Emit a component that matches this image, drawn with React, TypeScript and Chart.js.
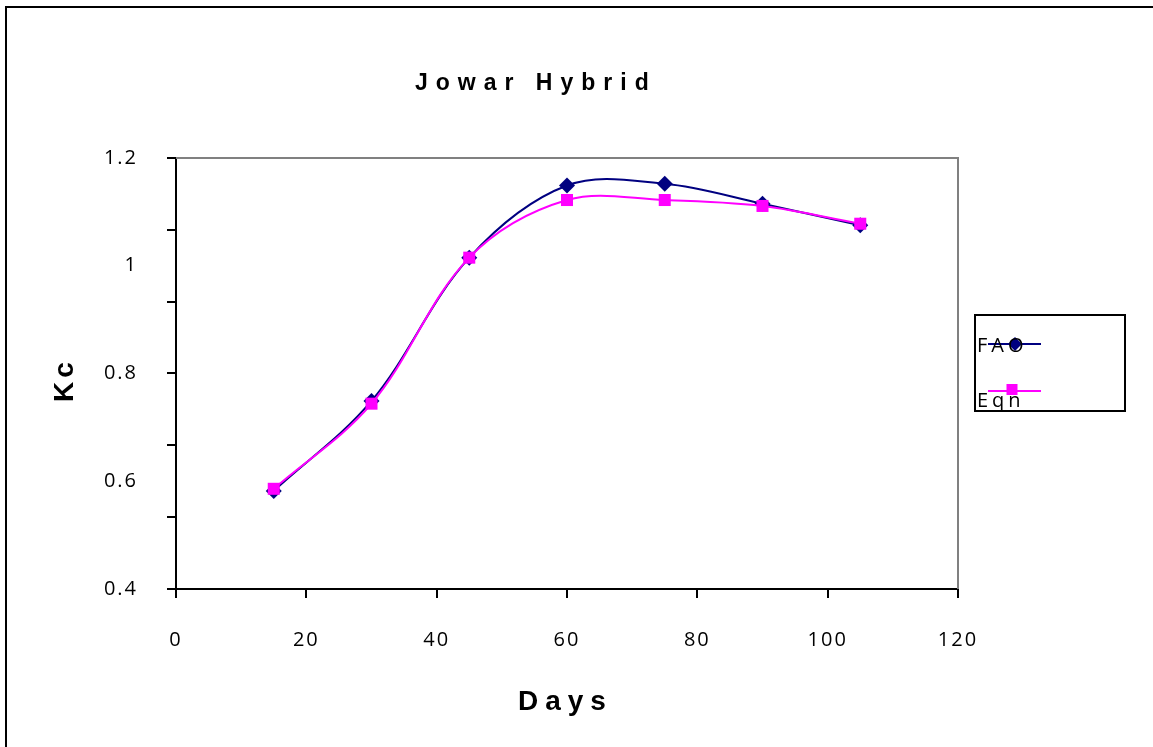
import React, { useEffect, useRef } from "react";
import { Chart, registerables } from "chart.js";

Chart.register(...registerables);

const titleText = "Jowar Hybrid";
const xTitle = "Days";
const yTitle = "Kc";
const days = [15, 30, 45, 60, 75, 90, 105];
const faoKc = [0.582, 0.749, 1.015, 1.149, 1.152, 1.115, 1.075];
const eqnKc = [0.586, 0.744, 1.015, 1.122, 1.122, 1.111, 1.078];
const seriesNames = ["FAO", "Eqn"];
const seriesColors = ["#000080", "#FF00FF"];
const xMin = 0, xMax = 120, xStep = 20;
const yMin = 0.4, yMax = 1.2, yStep = 0.2;
const yMinorDivisions = 6;

function spacedText(ctx: CanvasRenderingContext2D, text: string, x: number, y: number, spacing: number) {
  ctx.save();
  (ctx as any).letterSpacing = spacing + "px";
  ctx.textAlign = "left";
  ctx.fillText(text, x, y);
  ctx.restore();
}

const decorPlugin = {
  id: "decor",
  beforeDraw(chart: any) {
    const ctx = chart.ctx;
    ctx.save();
    ctx.fillStyle = "#ffffff";
    ctx.fillRect(0, 0, chart.width, chart.height);
    ctx.restore();
    (ctx as any).letterSpacing = "2px";
  },
  beforeDatasetsDraw(chart: any) {
    (chart.ctx as any).letterSpacing = "0px";
  },
  afterDraw(chart: any) {
    const ctx: CanvasRenderingContext2D = chart.ctx;
    const { left, right, top, bottom } = chart.chartArea;
    const ys = chart.scales.y;
    ctx.save();
    ctx.strokeStyle = "#000";
    ctx.lineWidth = 2;
    ctx.beginPath();
    ctx.moveTo(6, chart.height + 2);
    ctx.lineTo(6, 7);
    ctx.lineTo(chart.width + 2, 7);
    ctx.stroke();
    ctx.strokeStyle = "#808080";
    ctx.beginPath();
    ctx.moveTo(left, top);
    ctx.lineTo(right, top);
    ctx.lineTo(right, bottom);
    ctx.stroke();
    ctx.strokeStyle = "#000";
    for (let i = 0; i <= yMinorDivisions; i++) {
      const v = yMin + ((yMax - yMin) * i) / yMinorDivisions;
      const py = Math.round(ys.getPixelForValue(v));
      ctx.beginPath();
      ctx.moveTo(left - 9, py);
      ctx.lineTo(left, py);
      ctx.stroke();
    }
    ctx.fillStyle = "#000";
    ctx.textBaseline = "alphabetic";
    ctx.font = "bold 23px 'Liberation Sans', Arial, sans-serif";
    spacedText(ctx, titleText, 415, 90, 8);
    ctx.font = "bold 28px 'Liberation Sans', Arial, sans-serif";
    spacedText(ctx, xTitle, 518, 710, 7);
    ctx.save();
    ctx.translate(73, 402);
    ctx.rotate(-Math.PI / 2);
    spacedText(ctx, yTitle, 0, 0, 4);
    ctx.restore();
    ctx.strokeStyle = "#000";
    ctx.lineWidth = 2;
    ctx.strokeRect(975, 315, 150, 96);
    const ds = chart.data.datasets;
    const rows = [
      { ly: 344, mx: 1015, ty: 352 },
      { ly: 391, mx: 1012, ty: 407 },
    ];
    ds.forEach((d: any, i: number) => {
      const r = rows[i];
      ctx.strokeStyle = d.borderColor;
      ctx.lineWidth = 2;
      ctx.beginPath();
      ctx.moveTo(988, r.ly);
      ctx.lineTo(1041, r.ly);
      ctx.stroke();
      ctx.fillStyle = d.pointBackgroundColor;
      if (d.pointStyle === "rectRot") {
        const s = 7;
        ctx.beginPath();
        ctx.moveTo(r.mx - s, r.ly);
        ctx.lineTo(r.mx, r.ly - s);
        ctx.lineTo(r.mx + s, r.ly);
        ctx.lineTo(r.mx, r.ly + s);
        ctx.closePath();
        ctx.fill();
      } else {
        ctx.fillRect(r.mx - 5.5, r.ly - 7, 11, 11);
      }
      ctx.fillStyle = "#000";
      ctx.font = "20px 'Open Sans', sans-serif";
      spacedText(ctx, d.label, 977, r.ty, 4);
    });
    ctx.restore();
  },
};

export default function App() {
  const ref = useRef<HTMLCanvasElement | null>(null);
  useEffect(() => {
    if (!ref.current) return;
    const chart = new Chart(ref.current, {
      type: "line",
      data: {
        datasets: [
          {
            label: seriesNames[0],
            data: days.map((d, i) => ({ x: d, y: faoKc[i] })),
            borderColor: seriesColors[0],
            backgroundColor: seriesColors[0],
            pointBackgroundColor: seriesColors[0],
            pointBorderColor: seriesColors[0],
            pointStyle: "rectRot",
            pointRadius: 8,
            pointBorderWidth: 0,
            borderWidth: 2,
            tension: 0.35,
            order: 1,
          },
          {
            label: seriesNames[1],
            data: days.map((d, i) => ({ x: d, y: eqnKc[i] })),
            borderColor: seriesColors[1],
            backgroundColor: seriesColors[1],
            pointBackgroundColor: seriesColors[1],
            pointBorderColor: seriesColors[1],
            pointStyle: "rect",
            pointRadius: 8.5,
            pointBorderWidth: 0,
            borderWidth: 2,
            tension: 0.35,
            order: 0,
          },
        ],
      },
      options: {
        animation: false,
        responsive: false,
        maintainAspectRatio: false,
        layout: { padding: { left: 0, top: 158, right: 195, bottom: 58 } },
        plugins: { legend: { display: false }, title: { display: false }, tooltip: { enabled: false } },
        scales: {
          x: {
            type: "linear",
            min: xMin,
            max: xMax,
            afterFit: (s: any) => { s.height = 100; },
            ticks: {
              stepSize: xStep,
              padding: 30,
              color: "#000",
              font: { family: "'Open Sans', sans-serif", size: 20 },
              maxRotation: 0,
            },
            grid: { display: true, drawOnChartArea: false, drawTicks: true, tickLength: 9, color: "#000", lineWidth: 2 },
            border: { display: true, color: "#000", width: 2 },
          },
          y: {
            min: yMin,
            max: yMax,
            afterFit: (s: any) => { s.width = 176; },
            ticks: {
              stepSize: yStep,
              padding: 30,
              color: "#000",
              font: { family: "'Open Sans', sans-serif", size: 20 },
              callback: (v: any) => String(Math.round(Number(v) * 10) / 10),
            },
            grid: { display: false },
            border: { display: true, color: "#000", width: 2 },
          },
        },
      },
      plugins: [decorPlugin],
    });
    return () => chart.destroy();
  }, []);
  return (
    <div style={{ position: "absolute", left: 0, top: 0, width: 1153, height: 747 }}>
      <canvas ref={ref} width={1153} height={747} style={{ width: 1153, height: 747, display: "block" }} />
    </div>
  );
}
